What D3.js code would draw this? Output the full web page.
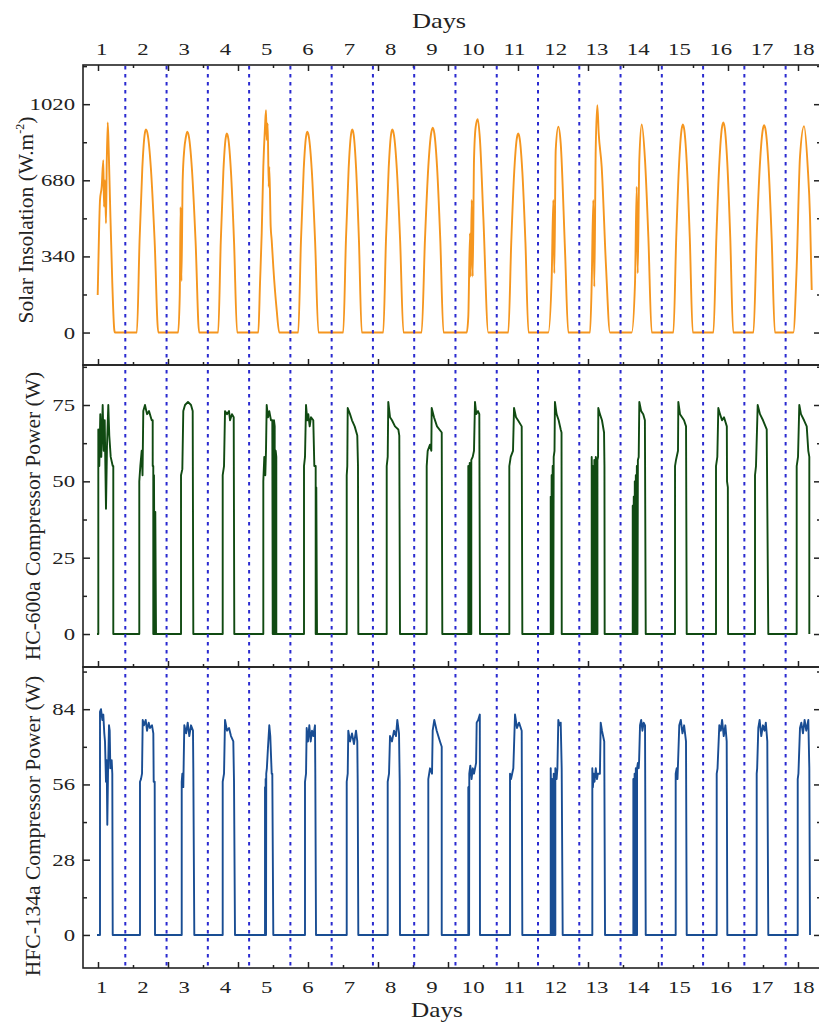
<!DOCTYPE html>
<html lang="en"><head>
<meta charset="utf-8">
<title>Solar insolation and compressor power</title>
<script src="https://cdn.jsdelivr.net/npm/d3@7"></script>
<style>
body { margin: 0; background: #fff; }
text { font-family: "Liberation Serif", "Times New Roman", serif; fill: #222; }
</style>
</head>
<body>
<script>

// days on the axis, midnights (dashed lines)
var dayLabels = [1, 2, 3, 4, 5, 6, 7, 8, 9, 10, 11, 12, 13, 14, 15, 16, 17, 18];
var midnights = [1, 2, 3, 4, 5, 6, 7, 8, 9, 10, 11, 12, 13, 14, 15, 16, 17];

// [time in days, W.m-2]
var solar = [
  [0.331,168],[0.363,443],[0.387,592],[0.428,651],[0.467,770],[0.484,562],[0.508,681],[0.532,488],[0.549,740],[0.574,938],[0.598,815],[0.629,592],[0.685,220],[0.733,12],[0.750,0],
  [1.28,0],[1.346,412],[1.412,734],[1.467,882],[1.50,907],[1.545,882],[1.62,734],[1.71,412],[1.80,0],
  [2.28,0],[2.32,170],[2.34,560],[2.36,230],[2.39,680],[2.43,820],[2.465,870],[2.50,897],[2.544,872],[2.616,726],[2.703,407],[2.79,0],
  [3.25,0],[3.313,404],[3.376,719],[3.429,864],[3.46,889],[3.498,864],[3.56,719],[3.635,404],[3.71,0],
  [4.223,0],[4.264,220],[4.305,443],[4.344,740],[4.385,919],[4.409,993],[4.426,860],[4.450,934],[4.475,651],[4.489,740],[4.523,473],[4.547,413],[4.586,294],[4.668,101],[4.731,0],
  [5.19,0],[5.256,407],[5.322,726],[5.377,872],[5.41,897],[5.45,872],[5.518,726],[5.599,407],[5.68,0],
  [6.28,0],[6.346,412],[6.412,734],[6.467,882],[6.50,907],[6.535,882],[6.592,734],[6.661,412],[6.73,0],
  [7.25,0],[7.316,412],[7.382,734],[7.437,882],[7.47,907],[7.51,882],[7.578,734],[7.659,412],[7.74,0],
  [8.18,0],[8.261,415],[8.342,740],[8.41,889],[8.45,915],[8.489,889],[8.554,740],[8.632,415],[8.71,0],
  [9.272,0],[9.311,71],[9.352,443],[9.369,250],[9.393,592],[9.418,250],[9.449,770],[9.490,919],[9.539,953],[9.594,860],[9.675,517],[9.796,0],
  [10.28,0],[10.352,404],[10.424,719],[10.484,864],[10.52,889],[10.558,864],[10.62,719],[10.695,404],[10.77,0],
  [11.249,0],[11.332,250],[11.371,592],[11.395,265],[11.429,815],[11.492,919],[11.550,845],[11.654,369],[11.734,0],
  [12.260,0],[12.301,220],[12.340,592],[12.364,205],[12.398,815],[12.437,1016],[12.471,889],[12.543,740],[12.648,294],[12.745,0],
  [13.270,0],[13.350,220],[13.392,651],[13.416,265],[13.455,770],[13.513,929],[13.593,770],[13.675,420],[13.755,0],
  [14.28,0],[14.349,422],[14.418,752],[14.476,903],[14.51,929],[14.546,903],[14.606,752],[14.678,422],[14.75,0],
  [15.25,0],[15.322,426],[15.394,759],[15.454,912],[15.49,938],[15.526,912],[15.586,759],[15.658,426],[15.73,0],
  [16.22,0],[16.298,420],[16.376,749],[16.441,900],[16.48,926],[16.519,900],[16.584,749],[16.662,420],[16.74,0],
  [17.186,0],[17.268,294],[17.348,785],[17.446,922],[17.535,740],[17.591,517],[17.632,190]
];

// [time in days, W]
var hc600a = [
  [0.314,0],[0.346,0],[0.346,67],[0.370,55],[0.394,72],[0.418,58],[0.452,75],[0.477,60],[0.501,70],[0.532,41],[0.557,62],[0.588,75],[0.612,65],[0.646,58],[0.695,55],[0.709,55],[0.709,0],
  [1.339,0],[1.339,50],[1.364,55],[1.397,60],[1.417,52],[1.436,73],[1.477,75],[1.526,72],[1.574,73],[1.640,70],[1.664,70],[1.664,55],[1.678,55],[1.678,0],[1.695,52],[1.712,0],[1.727,40],[1.744,0],
  [2.350,0],[2.350,52],[2.382,54],[2.405,73],[2.447,75],[2.519,76],[2.592,75],[2.633,73],[2.648,0],
  [3.360,0],[3.360,52],[3.392,55],[3.416,73],[3.464,72],[3.513,73],[3.537,70],[3.585,72],[3.627,71],[3.641,0],
  [4.344,0],[4.344,50],[4.368,58],[4.392,52],[4.409,60],[4.426,75],[4.458,71],[4.489,73],[4.530,70],[4.562,70],[4.572,0],[4.603,0],[4.603,70],[4.620,68],[4.620,0],[4.644,0],[4.644,60],[4.659,58],[4.659,0],
  [5.330,0],[5.330,55],[5.354,58],[5.379,75],[5.410,70],[5.434,72],[5.468,68],[5.500,71],[5.555,70],[5.580,55],[5.613,55],[5.613,0],[5.628,48],[5.645,0],
  [6.365,0],[6.365,52],[6.379,55],[6.389,74],[6.445,72],[6.493,70],[6.558,68],[6.621,65],[6.638,55],[6.646,0],
  [7.334,0],[7.334,55],[7.358,58],[7.372,76],[7.414,71],[7.462,70],[7.535,68],[7.615,67],[7.639,65],[7.656,0],
  [8.303,0],[8.303,55],[8.327,60],[8.383,62],[8.415,60],[8.424,74],[8.480,71],[8.553,68],[8.667,66],[8.681,0],
  [9.311,0],[9.311,55],[9.328,52],[9.328,0],[9.345,0],[9.345,56],[9.369,55],[9.369,0],[9.384,0],[9.384,57],[9.418,58],[9.449,60],[9.473,76],[9.505,72],[9.546,73],[9.578,72],[9.594,0],
  [10.305,0],[10.305,55],[10.339,58],[10.394,60],[10.419,74],[10.467,71],[10.515,70],[10.605,68],[10.620,0],
  [11.308,0],[11.308,45],[11.32,0],[11.33,52],[11.345,0],[11.355,55],[11.37,0],[11.38,58],[11.40,60],[11.41,76],[11.45,72],[11.50,70],[11.55,67],[11.57,66],[11.575,0],
  [12.301,0],[12.301,58],[12.31,50],[12.315,0],[12.33,0],[12.33,55],[12.345,52],[12.35,0],[12.365,0],[12.365,57],[12.38,55],[12.385,0],[12.40,0],[12.40,58],[12.42,56],[12.425,0],[12.44,0],[12.44,57],[12.455,58],[12.461,74],[12.50,72],[12.55,70],[12.60,66],[12.61,55],[12.615,0],
  [13.295,0],[13.295,42],[13.31,0],[13.32,45],[13.335,0],[13.345,50],[13.36,0],[13.37,52],[13.385,0],[13.395,55],[13.41,0],[13.42,57],[13.44,58],[13.455,76],[13.50,73],[13.55,72],[13.59,70],[13.61,0],
  [14.320,0],[14.320,55],[14.344,57],[14.392,60],[14.400,76],[14.441,72],[14.490,71],[14.538,70],[14.587,68],[14.603,0],
  [15.313,0],[15.313,55],[15.345,58],[15.369,74],[15.41,72],[15.459,70],[15.507,71],[15.575,68],[15.58,50],[15.60,48],[15.605,0],
  [16.258,0],[16.258,52],[16.282,55],[16.323,75],[16.379,72],[16.452,70],[16.542,67],[16.580,0],
  [17.268,0],[17.268,55],[17.300,58],[17.331,75],[17.372,72],[17.446,70],[17.511,68],[17.549,60],[17.574,58],[17.574,0]
];

// [time in days, W]
var hfc134a = [
  [0.314,0],[0.387,0],[0.387,83],[0.411,84],[0.443,80],[0.467,82],[0.491,75],[0.508,72],[0.532,57],[0.549,65],[0.564,41],[0.581,60],[0.605,78],[0.622,76],[0.637,62],[0.670,65],[0.685,60],[0.695,0],
  [1.356,0],[1.356,57],[1.380,58],[1.405,60],[1.422,80],[1.453,78],[1.494,80],[1.526,76],[1.567,79],[1.598,77],[1.647,78],[1.679,75],[1.688,57],[1.712,57],[1.720,0],
  [2.367,0],[2.367,57],[2.382,60],[2.405,55],[2.430,78],[2.474,75],[2.512,79],[2.551,74],[2.592,78],[2.640,76],[2.648,62],[2.672,0],
  [3.360,0],[3.360,57],[3.392,60],[3.416,80],[3.464,76],[3.513,77],[3.561,74],[3.617,72],[3.634,57],[3.658,0],
  [4.385,0],[4.385,55],[4.395,0],[4.40,58],[4.41,0],[4.415,60],[4.43,62],[4.458,70],[4.489,78],[4.513,74],[4.547,60],[4.562,60],[4.586,0],
  [5.354,0],[5.354,57],[5.379,60],[5.395,77],[5.427,72],[5.459,78],[5.492,72],[5.524,76],[5.555,74],[5.596,78],[5.604,60],[5.621,0],
  [6.365,0],[6.365,57],[6.389,60],[6.403,76],[6.445,72],[6.493,75],[6.541,71],[6.590,76],[6.621,72],[6.631,57],[6.646,0],
  [7.358,0],[7.358,57],[7.390,60],[7.414,74],[7.462,72],[7.511,76],[7.559,74],[7.591,80],[7.632,75],[7.649,57],[7.656,0],
  [8.342,0],[8.342,58],[8.383,62],[8.432,60],[8.448,76],[8.487,80],[8.545,76],[8.584,74],[8.625,72],[8.667,70],[8.667,0],
  [9.311,0],[9.311,55],[9.33,0],[9.335,60],[9.36,63],[9.39,58],[9.42,62],[9.45,60],[9.50,64],[9.514,79],[9.55,80],[9.59,82],[9.594,0],
  [10.322,0],[10.322,60],[10.346,58],[10.402,62],[10.443,82],[10.491,77],[10.540,79],[10.605,76],[10.620,0],
  [11.308,0],[11.308,62],[11.32,50],[11.325,0],[11.34,0],[11.34,58],[11.36,55],[11.365,0],[11.38,0],[11.38,60],[11.40,56],[11.405,0],[11.42,0],[11.42,62],[11.45,58],[11.47,62],[11.492,80],[11.52,78],[11.55,79],[11.574,62],[11.598,0],
  [12.316,0],[12.316,62],[12.33,55],[12.35,60],[12.37,57],[12.40,62],[12.43,58],[12.45,60],[12.50,60],[12.519,79],[12.55,76],[12.605,72],[12.624,0],
  [13.31,0],[13.31,58],[13.325,0],[13.34,0],[13.34,60],[13.355,0],[13.37,0],[13.37,62],[13.385,0],[13.40,0],[13.40,62],[13.42,64],[13.44,62],[13.45,65],[13.472,78],[13.50,80],[13.53,76],[13.56,79],[13.593,78],[13.61,0],
  [14.336,0],[14.336,60],[14.36,62],[14.38,58],[14.423,78],[14.46,80],[14.50,75],[14.54,78],[14.586,72],[14.603,0],
  [15.330,0],[15.330,60],[15.35,62],[15.393,78],[15.43,76],[15.46,80],[15.50,74],[15.54,78],[15.572,72],[15.575,60],[15.587,0],
  [16.299,0],[16.299,60],[16.31,62],[16.338,77],[16.37,80],[16.41,74],[16.45,78],[16.49,76],[16.52,79],[16.556,72],[16.580,0],
  [17.293,0],[17.293,58],[17.31,60],[17.348,77],[17.38,79],[17.42,75],[17.46,80],[17.50,76],[17.550,80],[17.574,62],[17.591,0]
];

var solarTicks = [0, 340, 680, 1020];
var hcTicks = [0, 25, 50, 75];
var hfcTicks = [0, 28, 56, 84];

var width = 819;
var height = 1025;
var left = 83, right = 821;

var svg = d3.select("body").append("svg")
  .attr("width", width)
  .attr("height", height);

var x = d3.scaleLinear().domain([-0.025, 17.857]).range([left, right]);

// frame ticks (they do not line up with the day labels in the original)
var frameMajor = d3.range(11).map(function(k){ return 0.3385 + k * 1.6961; });
var frameMinor = d3.range(10).map(function(k){ return 0.3385 + (k + 0.5) * 1.6961; });

var panels = [
  {top: 65,  bottom: 365, domain: [-145, 1195], ticks: solarTicks, data: solar,   color: "#f5961f", curve: d3.curveMonotoneX},
  {top: 365, bottom: 667, domain: [-10.8, 88.1], ticks: hcTicks,   data: hc600a,  color: "#104a12", curve: d3.curveLinear},
  {top: 667, bottom: 968, domain: [-12.3, 99.7], ticks: hfcTicks,  data: hfc134a, color: "#194d93", curve: d3.curveLinear}
];

panels.forEach(function(p, i){
  var y = d3.scaleLinear().domain(p.domain).range([p.bottom, p.top]);
  var step = p.ticks[1] - p.ticks[0];
  var minor = p.ticks.map(function(v){ return v + step / 2; })
    .filter(function(v){ return v < p.domain[1]; });

  var g = svg.append("g").attr("class", "panel_" + i);

  var line = d3.line()
    .x(function(d){ return x(d[0]); })
    .y(function(d){ return y(d[1]); })
    .curve(p.curve);

  g.append("path")
    .datum(p.data)
    .attr("fill", "none")
    .attr("stroke", p.color)
    .attr("stroke-width", 1.9)
    .attr("stroke-linejoin", "round")
    .attr("d", line);

  // y ticks, left and right, pointing inward
  g.append("g").attr("transform", "translate(" + left + ",0)")
    .call(d3.axisRight(y).tickValues(p.ticks).tickSize(7).tickFormat(""));
  g.append("g").attr("transform", "translate(" + left + ",0)")
    .call(d3.axisRight(y).tickValues(minor).tickSize(4).tickFormat(""));
  g.append("g").attr("transform", "translate(" + right + ",0)")
    .call(d3.axisLeft(y).tickValues(p.ticks).tickSize(7).tickFormat(""));
  g.append("g").attr("transform", "translate(" + right + ",0)")
    .call(d3.axisLeft(y).tickValues(minor).tickSize(4).tickFormat(""));

  // bottom ticks of each panel point up
  g.append("g").attr("transform", "translate(0," + p.bottom + ")")
    .call(d3.axisTop(x).tickValues(frameMajor).tickSize(6).tickFormat(""));
  g.append("g").attr("transform", "translate(0," + p.bottom + ")")
    .call(d3.axisTop(x).tickValues(frameMinor).tickSize(3).tickFormat(""));

  // tick labels, stretched like the original
  g.selectAll(".ylab")
    .data(p.ticks).enter()
    .append("text")
    .attr("class", "ylab")
    .attr("transform", function(d){ return "translate(75," + (y(d) + 6) + ") scale(1.3,1)"; })
    .attr("text-anchor", "end")
    .attr("font-size", 17.5)
    .text(function(d){ return d; });
});

// top panel: top ticks point down
svg.append("g").attr("transform", "translate(0,65)")
  .call(d3.axisBottom(x).tickValues(frameMajor).tickSize(6).tickFormat(""));
svg.append("g").attr("transform", "translate(0,65)")
  .call(d3.axisBottom(x).tickValues(frameMinor).tickSize(3).tickFormat(""));

svg.selectAll(".domain").remove();
svg.selectAll(".tick line").attr("stroke", "#222").attr("stroke-width", 1.5);

// midnight separators
svg.selectAll(".midnight")
  .data(midnights).enter()
  .append("line")
  .attr("class", "midnight")
  .attr("x1", function(d){ return x(d); })
  .attr("x2", function(d){ return x(d); })
  .attr("y1", 66)
  .attr("y2", 967)
  .attr("stroke", "#2a2ad0")
  .attr("stroke-width", 2)
  .attr("stroke-dasharray", "3.5,4.5");

// frames
panels.forEach(function(p){
  svg.append("rect")
    .attr("x", left).attr("y", p.top)
    .attr("width", right - left).attr("height", p.bottom - p.top)
    .attr("fill", "none")
    .attr("stroke", "#222")
    .attr("stroke-width", 1.6);
});

// day labels top and bottom
[55, 993].forEach(function(yy){
  svg.selectAll(null)
    .data(dayLabels).enter()
    .append("text")
    .attr("transform", function(d){ return "translate(" + x(d - 0.572) + "," + yy + ") scale(1.3,1)"; })
    .attr("text-anchor", "middle")
    .attr("font-size", 17.5)
    .text(function(d){ return d; });
});

svg.append("text")
  .attr("transform", "translate(439,28) scale(1.2,1)")
  .attr("text-anchor", "middle")
  .attr("font-size", 22)
  .text("Days");
svg.append("text")
  .attr("transform", "translate(437,1017) scale(1.2,1)")
  .attr("text-anchor", "middle")
  .attr("font-size", 21)
  .text("Days");

// y titles
var t1 = svg.append("text")
  .attr("transform", "translate(33,220) rotate(-90)")
  .attr("text-anchor", "middle")
  .attr("font-size", 21.5);
t1.append("tspan").text("Solar Insolation (W.m");
t1.append("tspan").attr("font-size", 12).attr("dy", -9).text("-2");
t1.append("tspan").attr("dy", 9).text(")");

svg.append("text")
  .attr("transform", "translate(40,516) rotate(-90)")
  .attr("text-anchor", "middle")
  .attr("font-size", 21.5)
  .text("HC-600a Compressor Power (W)");

svg.append("text")
  .attr("transform", "translate(40,826) rotate(-90)")
  .attr("text-anchor", "middle")
  .attr("font-size", 21.5)
  .text("HFC-134a Compressor Power (W)");

</script>
</body></html>
